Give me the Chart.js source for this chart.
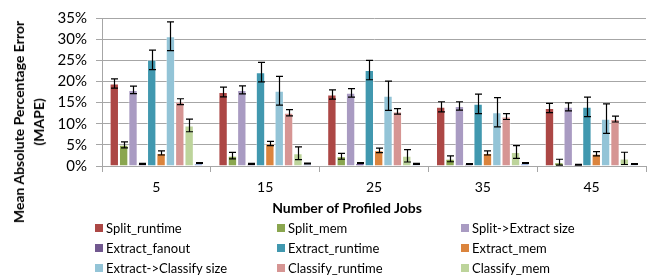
<!DOCTYPE html>
<html>
<head>
<meta charset="utf-8">
<script src="https://cdn.jsdelivr.net/npm/chart.js@4/dist/chart.umd.min.js"></script>
<style>
  html, body { margin: 0; padding: 0; background: #fff; }
  #wrap { position: relative; width: 651px; height: 279px; font-family: Lato, "Open Sans", sans-serif; color: #000; }
  #yTitle { position: absolute; left: 29px; top: 122px; transform: translate(-50%, -50%) rotate(-90deg);
            font-weight: bold; font-size: 14px; line-height: 20px; text-align: center; white-space: nowrap; }
  #xTitle { position: absolute; left: 347px; top: 207px; transform: translate(-50%, -50%);
            font-weight: bold; font-size: 14px; white-space: nowrap; }
  #legend { position: absolute; left: 95px; top: 219px; display: grid;
            grid-template-columns: 182px 184px auto; row-gap: 2px; font-size: 13px; }
  .item { display: flex; align-items: center; height: 18px; white-space: nowrap; }
  .box { width: 8px; height: 8px; margin-right: 3px; }
</style>
</head>
<body>
<div id="wrap">
  <canvas id="chart" width="651" height="279"></canvas>
  <div id="yTitle">Mean Absolute Percentage Error<br>(MAPE)</div>
  <div id="xTitle">Number of Profiled Jobs</div>
  <div id="legend"></div>
</div>
<script>
// Number of profiled jobs
const jobs = ['5', '15', '25', '35', '45'];

// MAPE values (%) and error bar half-lengths
const splitRuntime = [19.5, 17.5, 16.9, 14.0, 13.7];
const splitRuntimeErr = [1.1, 1.15, 1.1, 1.2, 1.1];
const splitMem = [5.0, 2.45, 2.3, 1.7, 0.9];
const splitMemErr = [0.7, 0.75, 0.7, 0.7, 0.7];
const splitExtractSize = [18.0, 18.0, 17.3, 14.2, 14.0];
const splitExtractSizeErr = [0.9, 0.95, 1.0, 1.0, 0.95];
const extractFanout = [0.5, 0.5, 0.7, 0.45, 0.3];
const extractFanoutErr = [0.1, 0.1, 0.1, 0.1, 0.1];
const extractRuntime = [25.1, 22.2, 22.7, 14.7, 14.0];
const extractRuntimeErr = [2.3, 2.3, 2.3, 2.3, 2.3];
const extractMem = [3.1, 5.3, 3.7, 3.1, 2.9];
const extractMemErr = [0.5, 0.5, 0.55, 0.5, 0.5];
const extractClassifySize = [30.7, 17.8, 16.6, 12.7, 11.2];
const extractClassifySizeErr = [3.4, 3.4, 3.45, 3.45, 3.5];
const classifyRuntime = [15.2, 12.6, 12.9, 11.7, 11.1];
const classifyRuntimeErr = [0.7, 0.75, 0.65, 0.7, 0.7];
const classifyMem = [9.6, 3.0, 2.4, 3.3, 1.8];
const classifyMemErr = [1.5, 1.5, 1.45, 1.5, 1.45];
// tenth series drawn in the chart but not listed in the legend
const classifyFanout = [0.7, 0.6, 0.5, 0.7, 0.45];
const classifyFanoutErr = [0.1, 0.1, 0.1, 0.1, 0.1];

const yTicks = [0, 5, 10, 15, 20, 25, 30, 35];

const series = [
  { label: 'Split_runtime', data: splitRuntime, errors: splitRuntimeErr, color: '#AC4745' },
  { label: 'Split_mem', data: splitMem, errors: splitMemErr, color: '#8AA64F' },
  { label: 'Split->Extract size', data: splitExtractSize, errors: splitExtractSizeErr, color: '#A99BC2' },
  { label: 'Extract_fanout', data: extractFanout, errors: extractFanoutErr, color: '#71588F' },
  { label: 'Extract_runtime', data: extractRuntime, errors: extractRuntimeErr, color: '#4198AF' },
  { label: 'Extract_mem', data: extractMem, errors: extractMemErr, color: '#DB843D' },
  { label: 'Extract->Classify size', data: extractClassifySize, errors: extractClassifySizeErr, color: '#93C4D7' },
  { label: 'Classify_runtime', data: classifyRuntime, errors: classifyRuntimeErr, color: '#D69593' },
  { label: 'Classify_mem', data: classifyMem, errors: classifyMemErr, color: '#BDD49B' },
  { label: 'Classify_fanout', data: classifyFanout, errors: classifyFanoutErr, color: '#A0B4DC', noLegend: true },
];

// draws the error bars on top of each bar
const errorBars = {
  id: 'errorBars',
  afterDatasetsDraw(chart) {
    const ctx = chart.ctx;
    const y = chart.scales.y;
    ctx.save();
    ctx.strokeStyle = '#000';
    ctx.lineWidth = 1.2;
    chart.data.datasets.forEach((ds, i) => {
      chart.getDatasetMeta(i).data.forEach((bar, j) => {
        const v = ds.data[j], e = ds.errors[j];
        const top = y.getPixelForValue(v + e);
        const bot = y.getPixelForValue(v - e);
        const x = Math.round(bar.x) + 0.5;
        ctx.beginPath();
        ctx.moveTo(x, top); ctx.lineTo(x, bot);
        ctx.moveTo(x - 3.5, top); ctx.lineTo(x + 3.5, top);
        ctx.moveTo(x - 3.5, bot); ctx.lineTo(x + 3.5, bot);
        ctx.stroke();
      });
    });
    ctx.restore();
  }
};

new Chart(document.getElementById('chart'), {
  type: 'bar',
  data: {
    labels: jobs,
    datasets: series.map(s => ({
      label: s.label,
      data: s.data,
      errors: s.errors,
      backgroundColor: s.color,
      borderColor: 'rgba(255,255,255,0.45)',
      borderWidth: 1,
      categoryPercentage: 0.86,
      barPercentage: 1.0,
    })),
  },
  options: {
    responsive: false,
    animation: false,
    layout: { padding: { left: 52, right: 5, top: 9, bottom: 83 } },
    plugins: { legend: { display: false }, tooltip: { enabled: false } },
    scales: {
      x: {
        afterFit: s => { s.height = 30; },
        grid: { drawOnChartArea: false, color: '#A6A6A6', tickLength: 6 },
        border: { color: '#A6A6A6' },
        ticks: { color: '#000', font: { family: 'Lato', size: 14 }, padding: 7 },
      },
      y: {
        min: 0,
        max: 35,
        afterFit: s => { s.width = 50; },
        afterBuildTicks: s => { s.ticks = yTicks.map(v => ({ value: v })); },
        grid: { color: '#A6A6A6', tickLength: 6 },
        border: { color: '#A6A6A6' },
        ticks: { color: '#000', font: { family: 'Lato', size: 15 }, padding: 9, callback: v => v + '%' },
      },
    },
  },
  plugins: [errorBars],
});

// HTML legend in three columns, without the tenth series
const legend = document.getElementById('legend');
series.filter(s => !s.noLegend).forEach(s => {
  const item = document.createElement('div');
  item.className = 'item';
  item.innerHTML = '<span class="box" style="background:' + s.color + '"></span>' + s.label;
  legend.appendChild(item);
});
</script>
</body>
</html>
